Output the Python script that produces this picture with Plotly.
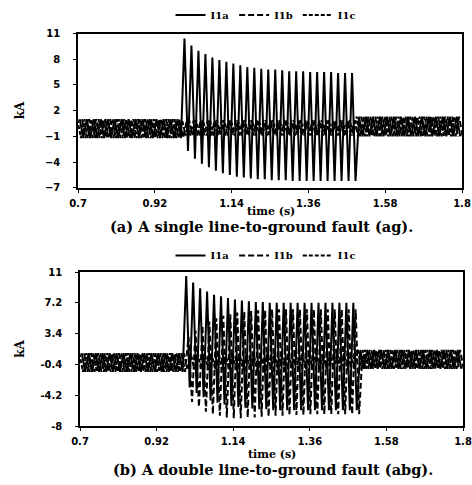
import plotly.graph_objects as go

# ---------------- data (kA), one value per cycle ----------------
T0 = 0.7          # start of record (s)
PERIOD = 0.02     # 50 Hz cycle (s)

x_ticks = [0.7, 0.92, 1.14, 1.36, 1.58, 1.8]
x_tick_labels = ["0.7", "0.92", "1.14", "1.36", "1.58", "1.8"]
ya_ticks = [-7, -4, -1, 2, 5, 8, 11]
yb_ticks = [-8, -4.2, -0.4, 3.4, 7.2, 11]
yb_tick_labels = ["-8", "-4.2", "-0.4", "3.4", "7.2", "11"]

# (a) single line-to-ground fault (ag): 15 pre-fault, 25 fault, 15 post-fault cycles
a_ia_peaks = [1.0, 1.0, 1.0, 1.0, 1.0, 1.0, 1.0, 1.0, 1.0, 1.0, 1.0, 1.0, 1.0, 1.0, 1.0,
              10.4, 9.6, 9.0, 8.6, 8.2, 7.9, 7.7, 7.5, 7.3, 7.1, 7.0, 6.9, 6.8, 6.8, 6.7,
              6.6, 6.6, 6.6, 6.5, 6.5, 6.5, 6.5, 6.4, 6.4, 6.4,
              1.3, 1.3, 1.3, 1.3, 1.3, 1.3, 1.3, 1.3, 1.3, 1.3, 1.3, 1.3, 1.3, 1.3, 1.3]
a_ia_troughs = [-1.2, -1.2, -1.2, -1.2, -1.2, -1.2, -1.2, -1.2, -1.2, -1.2, -1.2, -1.2, -1.2, -1.2, -1.2,
                -2.7, -3.6, -4.2, -4.6, -5.0, -5.3, -5.5, -5.7, -5.8, -5.9, -6.0, -6.0, -6.1, -6.1, -6.1,
                -6.2, -6.2, -6.2, -6.2, -6.2, -6.2, -6.2, -6.2, -6.2, -6.2,
                -1.0, -1.0, -1.0, -1.0, -1.0, -1.0, -1.0, -1.0, -1.0, -1.0, -1.0, -1.0, -1.0, -1.0, -1.0]
a_ib_peaks = [1.0] * 15 + [0.9] * 25 + [1.3] * 15
a_ib_troughs = [-1.2] * 15 + [-0.9] * 25 + [-1.0] * 15
a_ic_peaks = [1.0] * 15 + [0.9] * 25 + [1.3] * 15
a_ic_troughs = [-1.2] * 15 + [-0.9] * 25 + [-1.0] * 15

# (b) double line-to-ground fault (abg)
b_ia_peaks = [1.0] * 15 + [10.5, 9.7, 9.0, 8.6, 8.2, 8.0, 7.8, 7.6, 7.5, 7.4, 7.3, 7.3, 7.2,
                           7.2, 7.2, 7.2, 7.2, 7.2, 7.2, 7.2, 7.2, 7.2, 7.2, 7.2, 7.2] + [1.4] * 15
b_ia_troughs = [-1.3] * 15 + [-3.2, -3.9, -4.4, -4.8, -5.1, -5.3, -5.5, -5.6, -5.7, -5.8, -5.9, -5.9,
                              -6.0, -6.0, -6.0, -6.0, -6.0, -6.0, -6.0, -6.0, -6.0, -6.0, -6.0, -6.0, -6.0] + [-0.9] * 15
b_ib_peaks = [1.0] * 15 + [3.0, 3.8, 4.4, 4.9, 5.3, 5.6, 5.8, 6.0, 6.1, 6.2, 6.3, 6.3, 6.4,
                           6.4, 6.4, 6.4, 6.4, 6.4, 6.4, 6.4, 6.4, 6.4, 6.4, 6.4, 6.4] + [1.4] * 15
b_ib_troughs = [-1.3] * 15 + [-5.0, -5.6, -6.2, -6.5, -6.7, -6.9, -7.0, -7.0, -6.9, -6.9, -6.8, -6.8,
                              -6.7, -6.7, -6.6, -6.6, -6.6, -6.5, -6.5, -6.5, -6.5, -6.5, -6.5, -6.5, -6.5] + [-0.9] * 15
b_ic_peaks = [1.0] * 15 + [1.0] * 25 + [1.4] * 15
b_ic_troughs = [-1.3] * 15 + [-1.0] * 25 + [-0.9] * 15

phase_names = ["I1a", "I1b", "I1c"]


def wave(peaks, troughs, shift):
    t, y = [], []
    for c, (p, q) in enumerate(zip(peaks, troughs)):
        base = T0 + c * PERIOD + shift
        t += [base + PERIOD / 4, base + 3 * PERIOD / 4]
        y += [p, q]
    return t, y


shifts = [0.0, PERIOD / 3, -PERIOD / 3]
dashes = ["solid", "6px,3px", "4px,2px"]

fig = go.Figure()

for name, pk, tr, sh, ds in zip(phase_names,
                                [a_ia_peaks, a_ib_peaks, a_ic_peaks],
                                [a_ia_troughs, a_ib_troughs, a_ic_troughs],
                                shifts, dashes):
    t, y = wave(pk, tr, sh)
    fig.add_trace(go.Scatter(x=t, y=y, mode="lines", name=name, xaxis="x", yaxis="y",
                             line=dict(color="black", width=2, dash=ds), legend="legend"))

for name, pk, tr, sh, ds in zip(phase_names,
                                [b_ia_peaks, b_ib_peaks, b_ic_peaks],
                                [b_ia_troughs, b_ib_troughs, b_ic_troughs],
                                shifts, dashes):
    t, y = wave(pk, tr, sh)
    fig.add_trace(go.Scatter(x=t, y=y, mode="lines", name=name, xaxis="x2", yaxis="y2",
                             line=dict(color="black", width=2, dash=ds), legend="legend2"))

W, H = 472, 485


def px(v):
    return v / W


def py(v):
    return 1 - v / H


tickfont = dict(family="DejaVu Sans, sans-serif", size=10, color="black", weight="bold")
axis_common = dict(showgrid=False, zeroline=False, showline=True, linecolor="black", linewidth=1.5,
                   mirror=True, ticks="outside", ticklen=3, tickcolor="black", tickwidth=1.2,
                   tickfont=tickfont, automargin=False)

leg_font = dict(family="DejaVu Serif, serif", size=10, color="black", weight="bold")
fig.update_layout(
    template="none",
    width=W, height=H, margin=dict(l=0, r=0, t=0, b=0),
    paper_bgcolor="white", plot_bgcolor="white",
    xaxis=dict(domain=[px(78), px(462)], anchor="y", range=[0.7, 1.8],
               tickvals=x_ticks, ticktext=x_tick_labels, ticklabelstandoff=2, **axis_common),
    yaxis=dict(domain=[py(186), py(30.7)], anchor="x", range=[-7, 11],
               tickvals=ya_ticks, ticklabelstandoff=11, **axis_common),
    xaxis2=dict(domain=[px(80), px(463)], anchor="y2", range=[0.7, 1.8],
                tickvals=x_ticks, ticktext=x_tick_labels, ticklabelstandoff=2, **axis_common),
    yaxis2=dict(domain=[py(426), py(270.7)], anchor="x2", range=[-8, 11],
                tickvals=yb_ticks, ticktext=yb_tick_labels, ticklabelstandoff=11, **axis_common),
    legend=dict(orientation="h", x=px(266), xanchor="center", y=py(12), yanchor="middle",
                font=leg_font, itemwidth=30, bgcolor="rgba(0,0,0,0)", tracegroupgap=0),
    legend2=dict(orientation="h", x=px(266), xanchor="center", y=py(254), yanchor="middle",
                 font=leg_font, itemwidth=30, bgcolor="rgba(0,0,0,0)", tracegroupgap=0),
)

label_font = dict(family="DejaVu Serif, serif", size=11, color="black", weight="bold")
ka_font = dict(family="DejaVu Serif, serif", size=12, color="black", weight="bold")
cap_font = dict(family="DejaVu Serif, serif", size=14.5, color="black", weight="bold")
ann = [
    dict(text="kA", x=px(20), y=py(108), textangle=-90, font=ka_font),
    dict(text="time (s)", x=px(271), y=py(210), font=label_font),
    dict(text="(a) A single line-to-ground fault (ag).", x=px(261), y=py(225), font=cap_font),
    dict(text="kA", x=px(20), y=py(348), textangle=-90, font=ka_font),
    dict(text="time (s)", x=px(272), y=py(454), font=label_font),
    dict(text="(b) A double line-to-ground fault (abg).", x=px(273), y=py(469), font=cap_font),
]
for a in ann:
    fig.add_annotation(xref="paper", yref="paper", showarrow=False,
                       xanchor="center", yanchor="middle", **a)

fig.write_html("out.html", config={"displayModeBar": False},
               post_script="document.body.style.margin='0px';")
